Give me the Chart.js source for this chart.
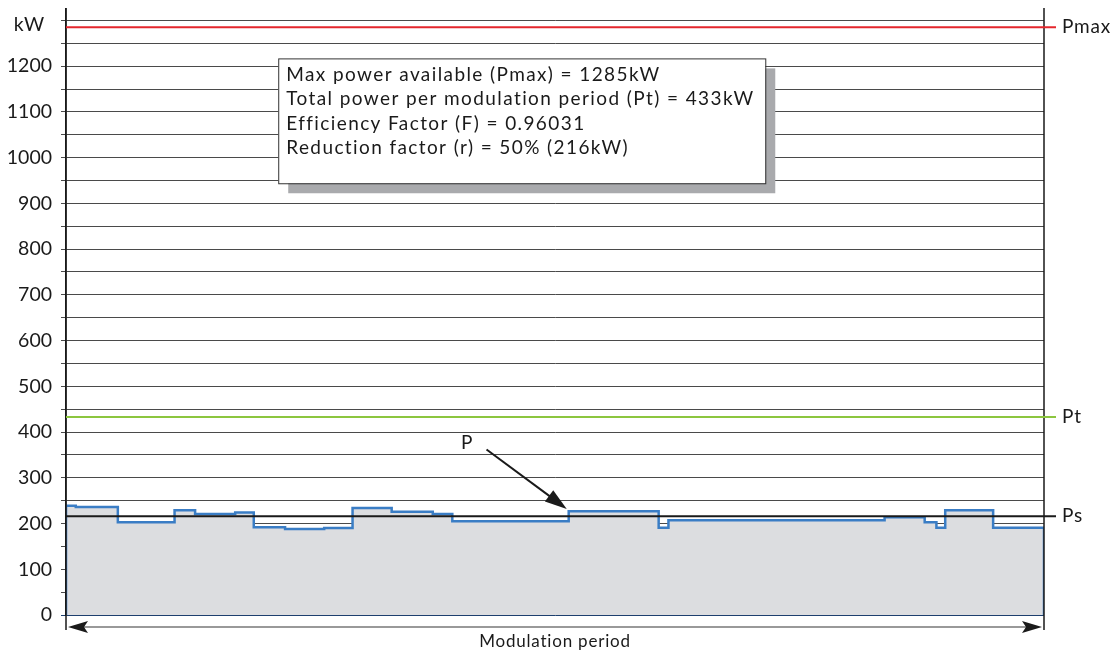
<!DOCTYPE html>
<html>
<head>
<meta charset="utf-8">
<script src="https://cdn.jsdelivr.net/npm/chart.js@4/dist/chart.umd.min.js"></script>
<style>
  html, body { margin: 0; padding: 0; background: #fff; }
</style>
</head>
<body>
<canvas id="powerChart" width="1120" height="656"></canvas>
<script>
// modulation period in % (step start positions) and power in kW
const stepStart = [0, 0, 1, 5.3, 11.1, 13.2, 17.3, 19.2, 22.4, 26.4, 29.3, 33.3, 37.5, 39.5, 51.4, 60.6, 61.6, 83.7, 87.8, 89.0, 89.9, 94.8, 100, 100];
const stepPower = [0, 239, 236, 203, 229, 221, 224, 192, 188, 190, 234, 226, 221, 205, 227, 191, 207, 214, 203, 191, 229, 191, 191, 0];

const gridValues = [0, 50, 100, 150, 200, 250, 300, 350, 400, 450, 500, 550, 600, 650, 700, 750, 800, 850, 900, 950, 1000, 1050, 1100, 1150, 1200, 1250, 1300];

const refNames = ['Pmax', 'Pt', 'Ps'];
const refValues = [1285, 433, 216];
const refColors = ['#e4262c', '#8cc63f', '#1a1a1a'];

const infoLines = [
  'Max power available (Pmax) = 1285kW',
  'Total power per modulation period (Pt) = 433kW',
  'Efficiency Factor (F) = 0.96031',
  'Reduction factor (r) = 50% (216kW)'
];

const FONT = 'Lato, "Open Sans", sans-serif';

// extra drawing: reference lines, P arrow, info box, period arrow
const extras = {
  id: 'extras',
  afterDraw(chart) {
    const ctx = chart.ctx;
    const a = chart.chartArea;
    const x = chart.scales.x, y = chart.scales.y;
    ctx.save();

    // vertical axes run a bit below 0
    ctx.strokeStyle = '#1a1a1a';
    ctx.lineWidth = 1.5;
    ctx.beginPath();
    ctx.moveTo(a.left, a.top - 1); ctx.lineTo(a.left, a.bottom + 15);
    ctx.moveTo(a.right, a.top - 1); ctx.lineTo(a.right, a.bottom + 15);
    ctx.stroke();

    // reference lines
    ctx.letterSpacing = '0.8px';
    refValues.forEach((v, i) => {
      const py = y.getPixelForValue(v);
      ctx.strokeStyle = refColors[i];
      ctx.lineWidth = 2;
      ctx.beginPath();
      ctx.moveTo(a.left, py); ctx.lineTo(a.right + 12, py);
      ctx.stroke();
      ctx.fillStyle = '#1a1a1a';
      ctx.font = '19px ' + FONT;
      ctx.textAlign = 'left';
      ctx.textBaseline = 'middle';
      ctx.fillText(refNames[i], a.right + 18, py);
    });

    // kW unit label
    ctx.font = '19.5px ' + FONT;
    ctx.textAlign = 'right';
    ctx.textBaseline = 'middle';
    ctx.fillText('kW', a.left - 21, y.getPixelForValue(1290));

    // P arrow
    const tx = x.getPixelForValue(43), ty = y.getPixelForValue(362);
    const hx = x.getPixelForValue(51.2), hy = y.getPixelForValue(232);
    ctx.strokeStyle = '#1a1a1a';
    ctx.fillStyle = '#1a1a1a';
    ctx.lineWidth = 2;
    const ang = Math.atan2(hy - ty, hx - tx);
    ctx.beginPath();
    ctx.moveTo(tx, ty);
    ctx.lineTo(hx - 18 * Math.cos(ang), hy - 18 * Math.sin(ang));
    ctx.stroke();
    ctx.beginPath();
    ctx.moveTo(hx, hy);
    ctx.lineTo(hx - 22 * Math.cos(ang) + 7 * Math.sin(ang), hy - 22 * Math.sin(ang) - 7 * Math.cos(ang));
    ctx.lineTo(hx - 22 * Math.cos(ang) - 7 * Math.sin(ang), hy - 22 * Math.sin(ang) + 7 * Math.cos(ang));
    ctx.closePath();
    ctx.fill();
    ctx.font = '19px ' + FONT;
    ctx.textAlign = 'center';
    ctx.fillText('P', x.getPixelForValue(41.0), y.getPixelForValue(376));

    // info box with shadow
    const bx1 = x.getPixelForValue(21.7), bx2 = x.getPixelForValue(71.5);
    const by1 = y.getPixelForValue(1217), by2 = y.getPixelForValue(944);
    ctx.fillStyle = '#a9aaad';
    ctx.fillRect(bx1 + 10, by1 + 10, bx2 - bx1, by2 - by1);
    ctx.fillStyle = '#fff';
    ctx.fillRect(bx1, by1, bx2 - bx1, by2 - by1);
    ctx.strokeStyle = '#333';
    ctx.lineWidth = 1;
    ctx.strokeRect(bx1 + 0.5, by1 + 0.5, bx2 - bx1, by2 - by1);
    ctx.fillStyle = '#1a1a1a';
    ctx.font = '19px ' + FONT;
    ctx.letterSpacing = '1.4px';
    ctx.textAlign = 'left';
    ctx.textBaseline = 'middle';
    infoLines.forEach((t, i) => ctx.fillText(t, bx1 + 8, by1 + 16 + i * 24.5));

    // modulation period double arrow
    const ay = a.bottom + 12;
    ctx.strokeStyle = '#777';
    ctx.lineWidth = 1.5;
    ctx.beginPath();
    ctx.moveTo(a.left + 10, ay); ctx.lineTo(a.right - 10, ay);
    ctx.stroke();
    ctx.fillStyle = '#1a1a1a';
    ctx.beginPath();
    ctx.moveTo(a.left + 2, ay); ctx.lineTo(a.left + 22, ay - 6); ctx.lineTo(a.left + 18, ay); ctx.lineTo(a.left + 22, ay + 6);
    ctx.closePath(); ctx.fill();
    ctx.beginPath();
    ctx.moveTo(a.right - 2, ay); ctx.lineTo(a.right - 22, ay - 6); ctx.lineTo(a.right - 18, ay); ctx.lineTo(a.right - 22, ay + 6);
    ctx.closePath(); ctx.fill();
    ctx.font = '17px ' + FONT;
    ctx.letterSpacing = '0.8px';
    ctx.textAlign = 'center';
    ctx.fillText('Modulation period', (a.left + a.right) / 2, a.bottom + 27);

    ctx.restore();
  }
};

new Chart(document.getElementById('powerChart'), {
  type: 'line',
  data: {
    datasets: [{
      data: stepStart.map((s, i) => ({ x: s, y: stepPower[i] })),
      stepped: true,
      borderColor: '#3a7dc5',
      borderWidth: 2.5,
      backgroundColor: '#dcdde0',
      fill: 'origin',
      pointRadius: 0
    }]
  },
  options: {
    responsive: false,
    devicePixelRatio: 1,
    animation: false,
    layout: { padding: { left: 0, right: 76, top: 9, bottom: 41 } },
    plugins: { legend: { display: false }, tooltip: { enabled: false } },
    scales: {
      x: { type: 'linear', min: 0, max: 100, display: false },
      y: {
        z: 1,
        min: 0,
        max: 1325,
        afterFit: s => { s.width = 66; s.paddingTop = 0; s.paddingBottom = 0; },
        afterBuildTicks: s => { s.ticks = gridValues.map(v => ({ value: v })); },
        ticks: {
          autoSkip: false,
          padding: 9,
          color: '#1a1a1a',
          font: { family: FONT, size: 19.5 },
          callback: v => (v % 100 === 0 && v <= 1200) ? String(v) : ''
        },
        grid: {
          tickLength: 5,
          lineWidth: 1,
          color: c => c.tick && c.tick.value === 0 ? '#1d3f6e' : '#4a4a4a'
        },
        border: { color: '#1a1a1a', width: 1.5 }
      }
    }
  },
  plugins: [extras]
});
</script>
</body>
</html>
